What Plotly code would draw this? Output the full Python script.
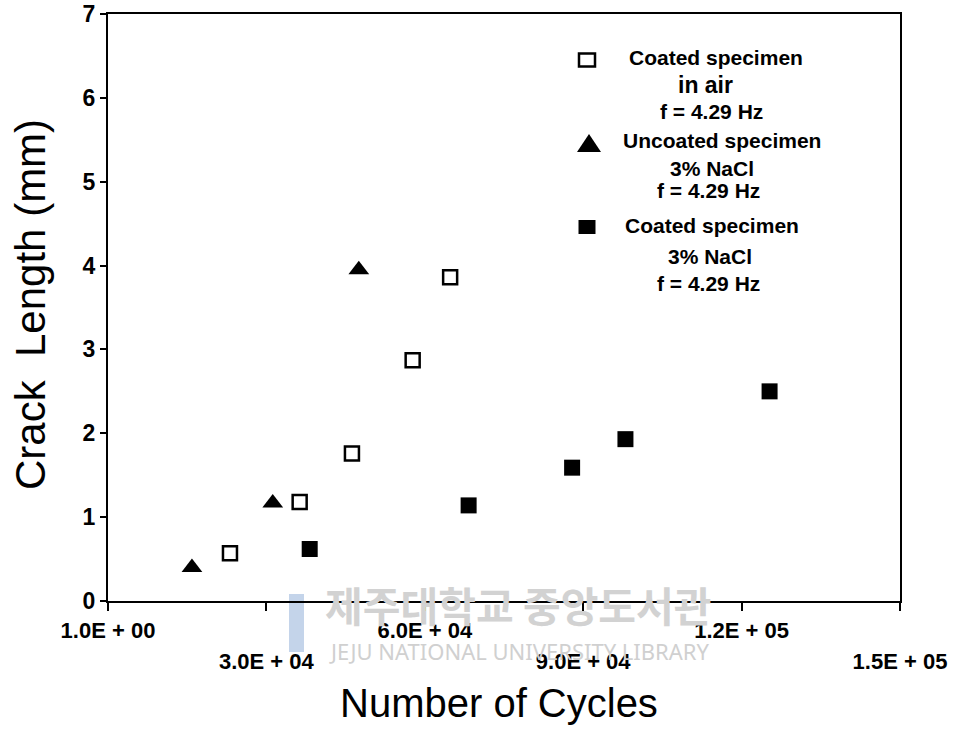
import plotly.graph_objects as go

# ---------------- data ----------------
air_cycles = [23100, 36300, 46200, 57700, 64800]
air_crack = [0.57, 1.18, 1.76, 2.87, 3.86]

unc_cycles = [15900, 31200, 47500]
unc_crack = [0.40, 1.17, 3.95]

nacl_cycles = [38200, 68300, 87900, 98000, 125300]
nacl_crack = [0.62, 1.14, 1.59, 1.93, 2.50]

x_upper_vals = [1, 60000, 120000]
x_upper_text = ["1.0E + 00", "6.0E + 04", "1.2E + 05"]
x_lower_vals = [30000, 90000, 150000]
x_lower_text = ["3.0E + 04", "9.0E + 04", "1.5E + 05"]
x_all_ticks = [1, 30000, 60000, 90000, 120000, 150000]
y_ticks = [0, 1, 2, 3, 4, 5, 6, 7]

x_title = "Number of Cycles"
y_title = "Crack\u00a0 Length (mm)"

legend_lines = [
    # (text, x_px, y_px, size)
    ("Coated specimen", 716, 58, 21),
    ("in air", 705, 85, 23),
    ("f = 4.29 Hz", 711, 111, 21),
    ("Uncoated specimen", 722, 141, 21),
    ("3% NaCl", 712, 168, 21),
    ("f = 4.29 Hz", 708, 190, 21),
    ("Coated specimen", 712, 226, 21),
    ("3% NaCl", 710, 256, 21),
    ("f = 4.29 Hz", 708, 283, 21),
]

FONT = "Liberation Sans, Arial, sans-serif"
W, H = 955, 729
L, R, T, B = 108, 55, 14, 128
PW, PH = W - L - R, H - T - B


def px2paper(px, py):
    return (px - L) / PW, (H - B - py) / PH


fig = go.Figure()

fig.add_trace(go.Scatter(
    x=air_cycles, y=air_crack, mode="markers", name="Coated specimen in air",
    marker=dict(symbol="square", size=14, color="white",
                line=dict(color="black", width=2.5))))
fig.add_trace(go.Scatter(
    x=unc_cycles, y=unc_crack, mode="markers", name="Uncoated specimen 3% NaCl",
    marker=dict(symbol="triangle-up", size=18, color="black",
                line=dict(width=0))))
fig.add_trace(go.Scatter(
    x=nacl_cycles, y=nacl_crack, mode="markers", name="Coated specimen 3% NaCl",
    xaxis="x2",
    marker=dict(symbol="square", size=16, color="black",
                line=dict(width=0))))

tickfont = dict(family=FONT, size=22, color="black", weight=700)

fig.update_layout(
    width=W, height=H,
    margin=dict(l=L, r=R, t=T, b=B, pad=0, autoexpand=False),
    paper_bgcolor="white", plot_bgcolor="white",
    showlegend=False,
    xaxis=dict(
        range=[0, 150000], tickmode="array", tickvals=x_all_ticks,
        ticktext=[x_upper_text[x_upper_vals.index(v)] if v in x_upper_vals else ""
                  for v in x_all_ticks],
        ticks="outside", ticklen=8, tickwidth=2, tickcolor="black",
        showline=True, linecolor="black", linewidth=2, mirror=True,
        showgrid=False, zeroline=False, tickfont=tickfont,
        ticklabelstandoff=1, automargin=False,
    ),
    xaxis2=dict(
        range=[0, 150000], overlaying="x", side="bottom", anchor="y",
        tickmode="array", tickvals=x_lower_vals, ticktext=x_lower_text,
        ticks="", showline=False, showgrid=False, zeroline=False,
        tickfont=tickfont, ticklabelstandoff=45, automargin=False,
    ),
    yaxis=dict(
        range=[0, 7], tickmode="array", tickvals=y_ticks,
        ticktext=[str(v) for v in y_ticks],
        ticks="outside", ticklen=6, tickwidth=2, tickcolor="black",
        showline=True, linecolor="black", linewidth=2, mirror=True,
        showgrid=False, zeroline=False,
        tickfont=dict(family=FONT, size=23, color="black", weight=700),
        ticklabelstandoff=0, automargin=False,
    ),
)

# watermark (library stamp): faint logo bar + text
fig.add_shape(type="rect", xref="paper", yref="paper",
              x0=px2paper(289, 0)[0], x1=px2paper(304, 0)[0],
              y0=px2paper(0, 652)[1], y1=px2paper(0, 594)[1],
              line=dict(width=0), fillcolor="#c4d4ea", layer="below")
fig.add_annotation(text="제주대학교 중앙도서관", xref="paper", yref="paper",
                   x=px2paper(518, 0)[0], y=px2paper(0, 604)[1],
                   xanchor="center", yanchor="middle", showarrow=False,
                   font=dict(family="Noto Sans CJK KR", size=41, color="#d2d2d2", weight=700))
fig.add_annotation(text="JEJU NATIONAL UNIVERSITY LIBRARY", xref="paper", yref="paper",
                   x=px2paper(519, 0)[0], y=px2paper(0, 651)[1],
                   xanchor="center", yanchor="middle", showarrow=False,
                   font=dict(family="Noto Sans", size=22, color="#d0d0d0"))

# axis titles
fig.add_annotation(text=x_title, xref="paper", yref="paper",
                   x=px2paper(499, 0)[0], y=px2paper(0, 703)[1],
                   xanchor="center", yanchor="middle", showarrow=False,
                   font=dict(family=FONT, size=40, color="black"))
fig.add_annotation(text=y_title, xref="paper", yref="paper",
                   x=px2paper(30, 0)[0], y=px2paper(0, 305)[1],
                   xanchor="center", yanchor="middle", showarrow=False, textangle=-90,
                   font=dict(family=FONT, size=42, color="black"))

# legend text
for txt, lx, ly, sz in legend_lines:
    ax, ay = px2paper(lx, ly)
    fig.add_annotation(text=txt, xref="paper", yref="paper", x=ax, y=ay,
                       xanchor="center", yanchor="middle", showarrow=False,
                       font=dict(family=FONT, size=sz, color="black", weight=700))

# legend symbols
sx, sy = px2paper(587, 60)
fig.add_shape(type="rect", xref="paper", yref="paper", xsizemode="pixel", ysizemode="pixel",
              xanchor=sx, yanchor=sy, x0=-8, x1=8, y0=-6.5, y1=6.5,
              line=dict(color="black", width=2.5), fillcolor="white")
tx, ty = px2paper(589, 143)
fig.add_shape(type="path", xref="paper", yref="paper", xsizemode="pixel", ysizemode="pixel",
              xanchor=tx, yanchor=ty, path="M -12,-9 L 12,-9 L 0,9 Z",
              line=dict(color="black", width=0), fillcolor="black")
fx, fy = px2paper(587, 227)
fig.add_shape(type="rect", xref="paper", yref="paper", xsizemode="pixel", ysizemode="pixel",
              xanchor=fx, yanchor=fy, x0=-8.5, x1=8.5, y0=-7, y1=7,
              line=dict(color="black", width=0), fillcolor="black")

fig.write_html("out.html")
